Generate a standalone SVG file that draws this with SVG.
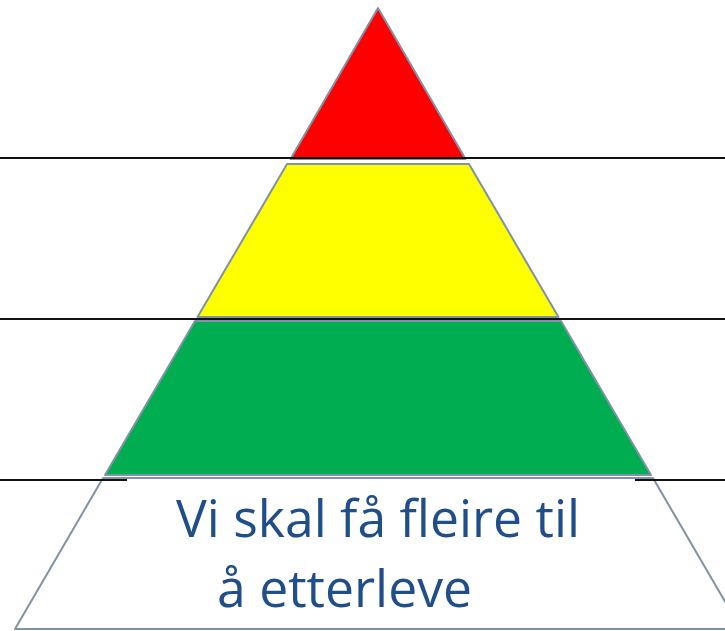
<svg xmlns="http://www.w3.org/2000/svg" width="725" height="631" viewBox="0 0 725 631">
<style>
.lvl{stroke:#7f93a8;stroke-width:2;stroke-linejoin:round}
.rule{stroke:#111;stroke-width:2;fill:none}
.txt{font-family:"Open Sans","Noto Sans","Liberation Sans",sans-serif;font-size:51px;fill:#1f4e8a}
</style>
<rect width="725" height="631" fill="#fff"/>
<g id="level-top"><polygon class="lvl" fill="#ff0000" points="378,8 465.5,159 290.5,159"/></g>
<g id="level-2"><polygon class="lvl" fill="#ffff00" points="287,164 469,164 558.5,317 197.5,317"/></g>
<g id="level-3"><polygon class="lvl" fill="#00ad50" points="195,321 561,321 651,475 105,475"/></g>
<g id="level-base"><polygon class="lvl" fill="#ffffff" points="103,478 653,478 741,629 15,629"/>
<text class="txt" x="176" y="537" textLength="404" lengthAdjust="spacingAndGlyphs">Vi skal få fleire til</text>
<text class="txt" x="217" y="607" textLength="255" lengthAdjust="spacingAndGlyphs">å etterleve</text>
</g>
<g id="connectors">
<line class="rule" x1="0" y1="158" x2="725" y2="158"/>
<line class="rule" x1="0" y1="319" x2="725" y2="319"/>
<line class="rule" x1="0" y1="480" x2="127" y2="480"/>
<line class="rule" x1="635" y1="480" x2="725" y2="480"/>
</g>
</svg>
